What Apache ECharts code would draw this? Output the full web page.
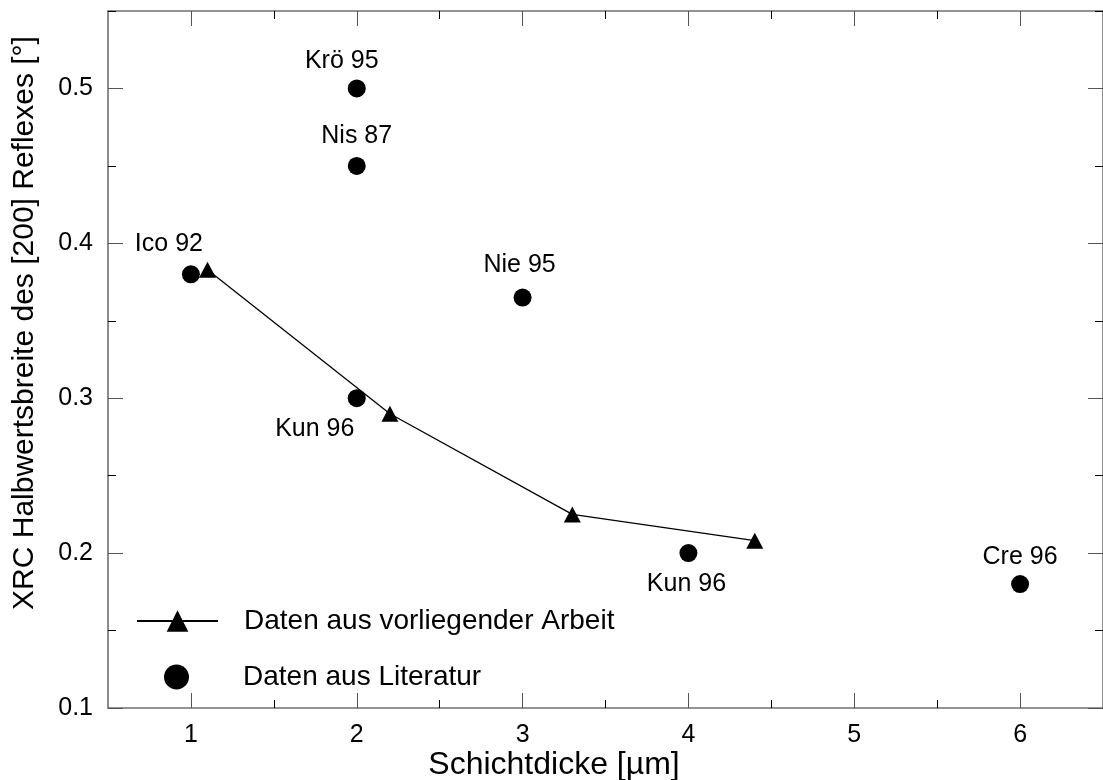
<!DOCTYPE html>
<html>
<head>
<meta charset="utf-8">
<script src="https://cdn.jsdelivr.net/npm/echarts@6/dist/echarts.min.js"></script>
<style>
  html, body { margin: 0; padding: 0; background: #fff; }
  #chart { width: 1103px; height: 780px; }
</style>
</head>
<body>
<div id="chart"></div>
<script>
// Own measurements: layer thickness [µm] vs. XRC FWHM of the [200] reflection [°]
const ownThickness = [1.1, 2.2, 3.3, 4.4];
const ownFwhm = [0.383, 0.29, 0.225, 0.208];

// Values from the literature
const litRefs = ['Ico 92', 'Krö 95', 'Nis 87', 'Kun 96', 'Nie 95', 'Kun 96', 'Cre 96'];
const litThickness = [1, 2, 2, 2, 3, 4, 6];
const litFwhm = [0.38, 0.5, 0.45, 0.3, 0.365, 0.2, 0.18];

// Tick values
const xMajor = [1, 2, 3, 4, 5, 6];
const xMinor = [1.5, 2.5, 3.5, 4.5, 5.5];
const yMajor = [0.1, 0.2, 0.3, 0.4, 0.5];
const yMinor = [0.15, 0.25, 0.35, 0.45, 0.55];

const seriesOwn = 'Daten aus vorliegender Arbeit';
const seriesLit = 'Daten aus Literatur';
const xTitle = 'Schichtdicke [µm]';
const yTitle = 'XRC Halbwertsbreite des [200] Reflexes [°]';

const FONT = '"Liberation Sans", Arial, Helvetica, sans-serif';
const FS = 25;        // tick and point labels
const FS_LEGEND = 28;
const FS_YTITLE = 30;
const FS_XTITLE = 32;

// label placement around each literature point
const litLabelOffset = [[-22, -30], [-15, -27], [0, -30], [-42, 31], [-3, -32], [-2, 31], [0, -27]];

function axisCommon(ticks, len, showLine, showLabel, fmt) {
  return {
    type: 'value',
    axisLine: { show: showLine, onZero: false, lineStyle: { color: '#707070', width: 1.6 } },
    axisTick: { show: true, inside: true, length: len, customValues: ticks,
                lineStyle: { color: len > 10 ? '#555' : '#000', width: 1 } },
    axisLabel: showLabel
      ? { show: true, customValues: ticks, color: '#000', fontSize: FS, fontFamily: FONT, margin: 15, formatter: fmt }
      : { show: false },
    splitLine: { show: false }
  };
}

function xAxis(pos, ticks, len, showLine, showLabel) {
  return Object.assign(axisCommon(ticks, len, showLine, showLabel, v => String(Math.round(v))),
    { position: pos, min: 0.5, max: 6.5, gridIndex: 0 });
}
function yAxis(pos, ticks, len, showLine, showLabel) {
  return Object.assign(axisCommon(ticks, len, showLine, showLabel, v => Number(v).toFixed(1)),
    { position: pos, min: 0.1, max: 0.55, gridIndex: 0 });
}

const chart = echarts.init(document.getElementById('chart'), null, { renderer: 'canvas' });

chart.setOption({
  animation: false,
  backgroundColor: '#fff',
  textStyle: { fontFamily: FONT },
  grid: { left: 108, top: 11, width: 996, height: 697, containLabel: false },
  xAxis: [
    xAxis('bottom', xMajor, 15, true, true),
    xAxis('bottom', xMinor, 8, false, false),
    xAxis('top', xMajor, 15, true, false),
    xAxis('top', xMinor, 8, false, false)
  ],
  yAxis: [
    yAxis('left', yMajor, 15, true, true),
    yAxis('left', yMinor, 8, false, false),
    yAxis('right', yMajor, 15, true, false),
    yAxis('right', yMinor, 8, false, false)
  ],
  legend: [
    {
      data: [seriesOwn], orient: 'vertical', left: 136, top: 607, padding: 0,
      itemWidth: 81, itemHeight: 27, selectedMode: false,
      textStyle: { fontSize: FS_LEGEND, color: '#000', fontFamily: FONT, padding: [0, 0, 0, 21] }
    },
    {
      data: [seriesLit], orient: 'vertical', left: 164, top: 663, padding: 0,
      itemWidth: 81, itemHeight: 25, selectedMode: false,
      textStyle: { fontSize: FS_LEGEND, color: '#000', fontFamily: FONT, padding: [0, 0, 0, 21] }
    }
  ],
  series: [
    {
      name: seriesLit,
      type: 'scatter',
      xAxisIndex: 0, yAxisIndex: 0,
      symbol: 'circle',
      symbolSize: 18,
      itemStyle: { color: '#000', opacity: 1 },
      label: {
        show: true, formatter: '{b}', position: 'inside',
        color: '#000', fontSize: FS, fontFamily: FONT
      },
      data: litThickness.map((x, i) => ({
        name: litRefs[i],
        value: [x, litFwhm[i]],
        label: { offset: litLabelOffset[i] }
      })),
      z: 3
    },
    {
      name: seriesOwn,
      type: 'line',
      xAxisIndex: 0, yAxisIndex: 0,
      symbol: 'triangle',
      symbolSize: [17, 16],
      lineStyle: { color: '#000', width: 1.3 },
      itemStyle: { color: '#000', opacity: 1 },
      data: ownThickness.map((x, i) => [x, ownFwhm[i]]),
      z: 4
    }
  ],
  graphic: [
    {
      type: 'text', x: 554, y: 765,
      style: { text: xTitle, align: 'center', verticalAlign: 'middle',
               fontSize: FS_XTITLE, fontFamily: FONT, fill: '#000' }
    },
    {
      type: 'text', x: 25, y: 323, rotation: Math.PI / 2,
      style: { text: yTitle, align: 'center', verticalAlign: 'middle',
               fontSize: FS_YTITLE, fontFamily: FONT, fill: '#000' }
    }
  ]
});
</script>
</body>
</html>
